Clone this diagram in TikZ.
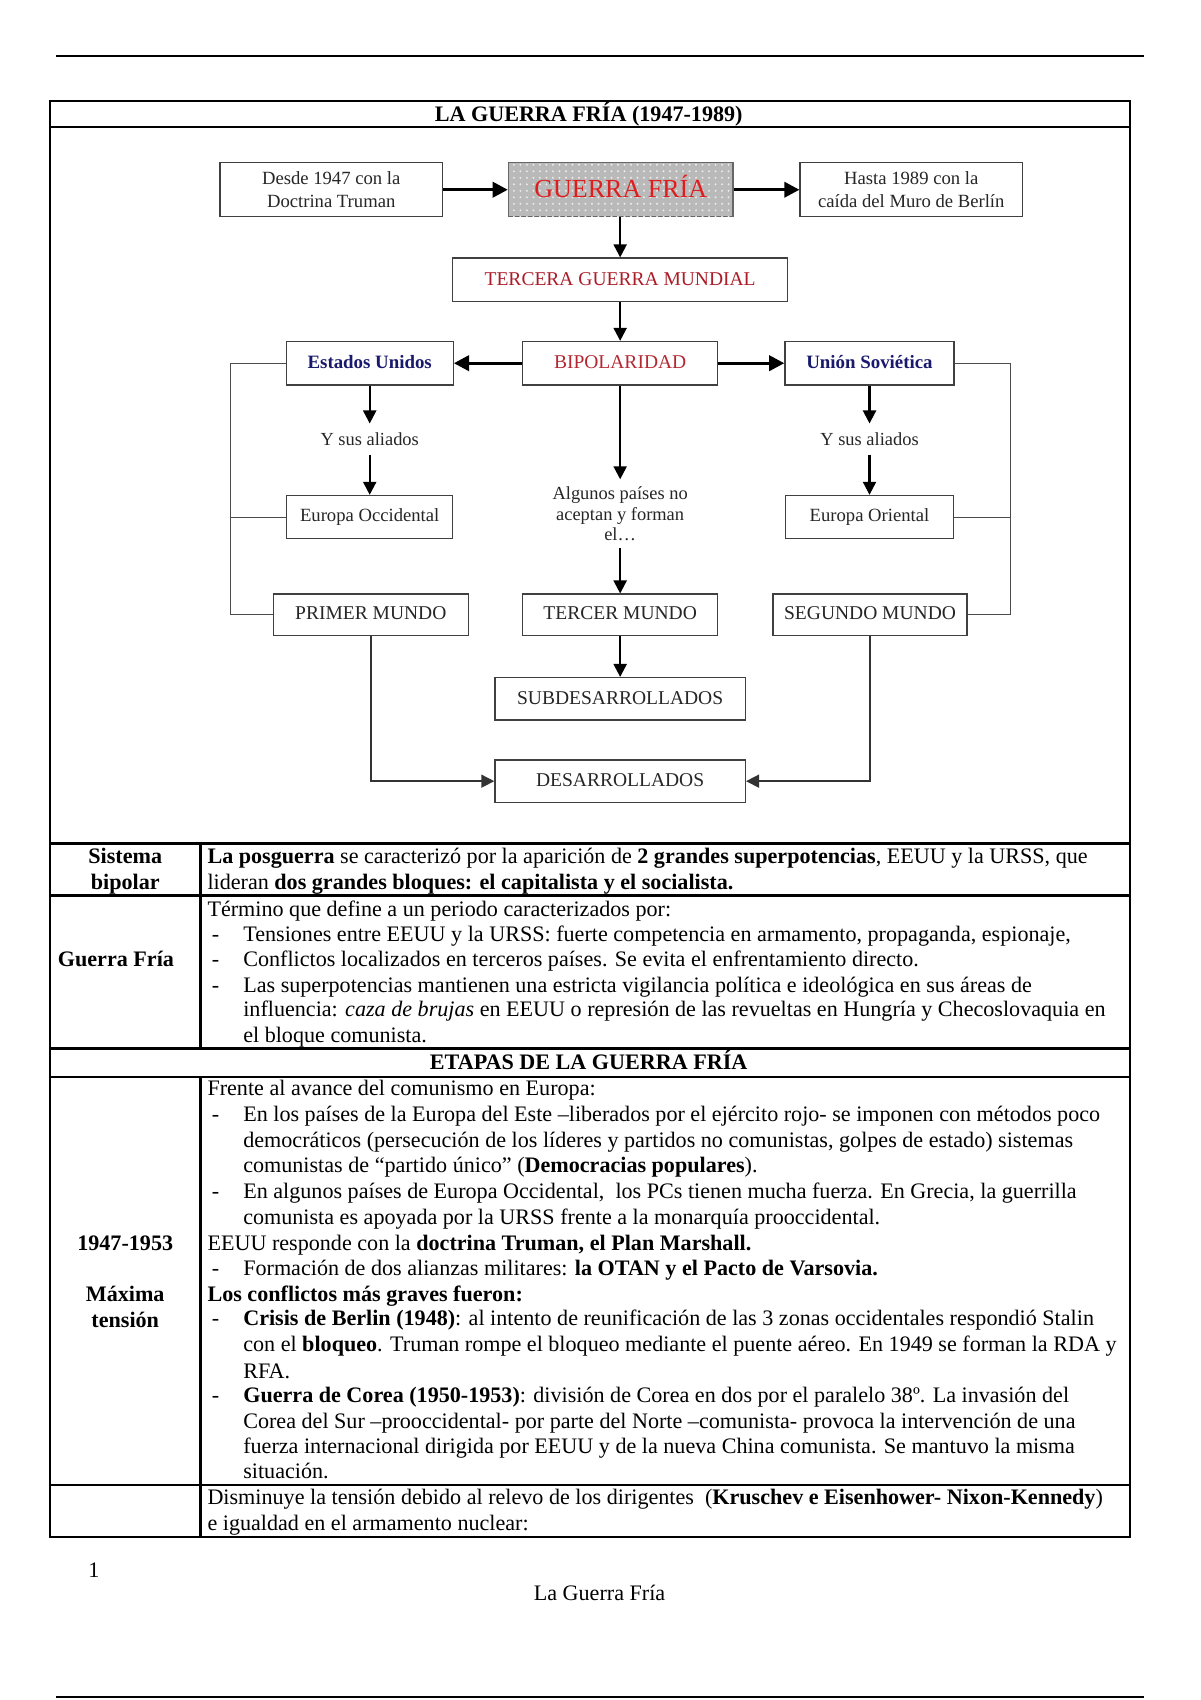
\documentclass[tikz,border=0pt]{standalone}
\usepackage{fontspec}
\setmainfont{Liberation Serif}
\usetikzlibrary{arrows.meta,patterns}
\definecolor{gfred}{RGB}{222,30,30}
\definecolor{dkred}{RGB}{172,28,40}
\definecolor{bpred}{RGB}{180,40,50}
\definecolor{navyb}{RGB}{25,25,110}
\newcommand\txtf{\fontsize{10.2pt}{11.75pt}\selectfont}
\newcommand\dgf{\fontsize{8.6pt}{10.5pt}\selectfont}
\newcommand\dsf{\fontsize{8.5pt}{9.5pt}\selectfont}
\newcommand\dbf{\fontsize{9pt}{11pt}\selectfont}
\tikzset{
  box/.style={draw=black!75, line width=0.6pt, fill=white, inner sep=0pt, align=center, text=black!85},
  harr/.style={line width=1.5pt, -{Triangle[length=7pt,width=7pt]}},
  varr/.style={line width=1pt, -{Triangle[length=6pt,width=6pt]}},
  larr/.style={line width=0.7pt, draw=black!80, -{Triangle[length=6pt,width=6pt]}},
  thinln/.style={line width=0.5pt, draw=black!70},
  tabln/.style={line width=1pt, draw=black},
  ln/.style={anchor=base west, inner sep=0pt, font=\txtf, yshift=-1pt},
  lnc/.style={anchor=base, inner sep=0pt, font=\txtf, yshift=-1pt},
  plain/.style={inner sep=0pt, align=center, text=black!85},
}
\begin{document}
\begin{tikzpicture}[x=0.5pt,y=-0.5pt]
\useasboundingbox[fill=white] (0,0) rectangle (1107,1568);
% page rules
\draw[line width=1pt] (52,52) -- (1055,52);
\draw[line width=1pt] (52,1565) -- (1055,1565);
% table
\draw[tabln] (46,93) rectangle (1042,1418);
\foreach \yy in {117,778,826,967,993,1370} \draw[tabln] (46,\yy) -- (1042,\yy);
\draw[tabln] (185,778) -- (185,967);
\draw[tabln] (185,993) -- (185,1418);
\node[lnc, font=\txtf\bfseries] (title) at (543,110) {LA GUERRA FRÍA (1947-1989)};

% diagram
\node[box, minimum width=102.5pt, minimum height=25pt, font=\dgf] (desde) at (305.5,175) {Desde 1947 con la\\Doctrina Truman};
\node[box, minimum width=103.5pt, minimum height=25pt, font=\fontsize{12pt}{14pt}\selectfont, text=gfred, fill=gray!55, draw=black!60,
      postaction={pattern=dots, pattern color=white!85!gray}] (guerra) at (572.5,175) {\raisebox{3pt}{GUERRA FRÍA}};
\node[box, minimum width=102.5pt, minimum height=25pt, font=\dgf] (hasta) at (840.5,175) {Hasta 1989 con la\\caída del Muro de Berlín};
\node[box, minimum width=154.5pt, minimum height=20pt, font=\dbf, text=dkred] (tercera) at (572,258) {\raisebox{1pt}{TERCERA GUERRA MUNDIAL}};
\node[box, minimum width=90pt, minimum height=20pt, font=\dbf, text=bpred] (bipo) at (572,335) {\raisebox{1pt}{BIPOLARIDAD}};
\node[box, minimum width=77pt, minimum height=20pt, font=\fontsize{8.7pt}{10pt}\selectfont\bfseries, text=navyb] (eeuu) at (341,335) {\raisebox{1pt}{Estados Unidos}};
\node[box, minimum width=78pt, minimum height=20pt, font=\fontsize{8.7pt}{10pt}\selectfont\bfseries, text=navyb] (urss) at (802,335) {\raisebox{1pt}{Unión Soviética}};
\node[plain, minimum height=14pt, font=\dsf] (aliL) at (341,405) {Y sus aliados};
\node[plain, minimum height=14pt, font=\dsf] (aliR) at (802,405) {Y sus aliados};
\node[box, minimum width=76.5pt, minimum height=20pt, font=\dgf] (eocc) at (341,477) {\raisebox{1pt}{Europa Occidental}};
\node[box, minimum width=77.5pt, minimum height=20pt, font=\dgf] (eori) at (802,477) {\raisebox{1pt}{Europa Oriental}};
\node[plain, minimum height=31.5pt, font=\dsf] (alg) at (572,474) {Algunos países no\\aceptan y forman\\el…};
\node[box, minimum width=90pt, minimum height=19pt, font=\dbf] (primer) at (342,567) {\raisebox{2pt}{PRIMER MUNDO}};
\node[box, minimum width=90pt, minimum height=19pt, font=\dbf] (tercer) at (572,567) {\raisebox{2pt}{TERCER MUNDO}};
\node[box, minimum width=89.5pt, minimum height=19pt, font=\dbf] (segundo) at (802.5,567) {\raisebox{2pt}{SEGUNDO MUNDO}};
\node[box, minimum width=115.5pt, minimum height=19.5pt, font=\dbf] (subdes) at (572,644.5) {\raisebox{1pt}{SUBDESARROLLADOS}};
\node[box, minimum width=115.5pt, minimum height=19.5pt, font=\dbf] (desarr) at (572,720.5) {\raisebox{1pt}{DESARROLLADOS}};

\draw[harr] (desde) -- (guerra);
\draw[harr] (guerra) -- (hasta);
\draw[varr] (guerra.south -| tercera.north) -- (tercera.north);
\draw[varr] (tercera.south) -- (bipo.north);
\draw[harr] (bipo) -- (eeuu);
\draw[harr] (bipo) -- (urss);
\draw[varr] (eeuu.south) -- (aliL.north);
\draw[varr] (aliL.south) -- (eocc.north);
\draw[varr] (urss.south) -- (aliR.north);
\draw[varr] (aliR.south) -- (eori.north);
\draw[varr] (bipo.south) -- (alg.north);
\draw[varr] (alg.south) -- (tercer.north);
\draw[varr] (tercer.south) -- (subdes.north);
\draw[larr] (primer.south) |- (desarr.west);
\draw[larr] (segundo.south) |- (desarr.east);
\coordinate (bl) at (213,335);
\coordinate (br) at (932,335);
\draw[thinln] (eeuu.west) -- (bl) |- (primer.west);
\draw[thinln] (eocc.west) -- (eocc.west -| bl);
\draw[thinln] (urss.east) -- (br) |- (segundo.east);
\draw[thinln] (eori.east) -- (eori.east -| br);

% Sistema bipolar
\node[lnc, font=\txtf\bfseries] (sb1) at (115.5,794) {Sistema};
\node[lnc, font=\txtf\bfseries] (sb2) at (115.5,818) {bipolar};
\node[ln] (s1) at (191,794) {\textbf{La posguerra} se caracterizó por la aparición de \textbf{2 grandes superpotencias}, EEUU y la URSS, que};
\node[ln] (s2) at (191,818) {lideran \textbf{dos grandes bloques: el capitalista y el socialista.}};

% Guerra Fria
\node[ln, font=\txtf\bfseries] (gf) at (53,889) {Guerra Fría};
\node[ln] (g1) at (191,843) {Término que define a un periodo caracterizados por:};
\node[ln] (gb1) at (195,866) {-};
\node[ln] (g2) at (224,866) {Tensiones entre EEUU y la URSS: fuerte competencia en armamento, propaganda, espionaje,};
\node[ln] (gb2) at (195,889) {-};
\node[ln] (g3) at (224,889) {Conflictos localizados en terceros países. Se evita el enfrentamiento directo.};
\node[ln] (gb3) at (195,913) {-};
\node[ln] (g4) at (224,913) {Las superpotencias mantienen una estricta vigilancia política e ideológica en sus áreas de};
\node[ln] (g5) at (224,936) {influencia: \textit{caza de brujas} en EEUU o represión de las revueltas en Hungría y Checoslovaquia en};
\node[ln] (g6) at (224,960) {el bloque comunista.};

% Etapas
\node[lnc, font=\txtf\bfseries] (etapas) at (543,984) {ETAPAS DE LA GUERRA FRÍA};

% 1947-1953
\node[lnc, font=\txtf\bfseries] (e1) at (115.5,1151) {1947-1953};
\node[lnc, font=\txtf\bfseries] (e2) at (115.5,1198) {Máxima};
\node[lnc, font=\txtf\bfseries] (e3) at (115.5,1222) {tensión};

\node[ln] (t1) at (191,1008) {Frente al avance del comunismo en Europa:};
\node[ln] (tb1) at (195,1032) {-};
\node[ln] (t2) at (224,1032) {En los países de la Europa del Este –liberados por el ejército rojo- se imponen con métodos poco};
\node[ln] (t3) at (224,1056) {democráticos (persecución de los líderes y partidos no comunistas, golpes de estado) sistemas};
\node[ln] (t4) at (224,1079) {comunistas de “partido único” (\textbf{Democracias populares}).};
\node[ln] (tb2) at (195,1103) {-};
\node[ln] (t5) at (224,1103) {En algunos países de Europa Occidental,\ \ los PCs tienen mucha fuerza. En Grecia, la guerrilla};
\node[ln] (t6) at (224,1127) {comunista es apoyada por la URSS frente a la monarquía prooccidental.};
\node[ln] (t7) at (191,1151) {EEUU responde con la \textbf{doctrina Truman, el Plan Marshall.}};
\node[ln] (tb3) at (195,1174) {-};
\node[ln] (t8) at (224,1174) {Formación de dos alianzas militares: \textbf{la OTAN y el Pacto de Varsovia.}};
\node[ln, font=\txtf\bfseries] (t9) at (191,1198) {Los conflictos más graves fueron:};
\node[ln] (tb4) at (195,1221) {-};
\node[ln] (t10) at (224,1221) {\textbf{Crisis de Berlin (1948)}: al intento de reunificación de las 3 zonas occidentales respondió Stalin};
\node[ln] (t11) at (224,1245) {con el \textbf{bloqueo}. Truman rompe el bloqueo mediante el puente aéreo. En 1949 se forman la RDA y};
\node[ln] (t12) at (224,1269) {RFA.};
\node[ln] (tb5) at (195,1292) {-};
\node[ln] (t13) at (224,1292) {\textbf{Guerra de Corea (1950-1953)}: división de Corea en dos por el paralelo 38º. La invasión del};
\node[ln] (t14) at (224,1316) {Corea del Sur –prooccidental- por parte del Norte –comunista- provoca la intervención de una};
\node[ln] (t15) at (224,1339) {fuerza internacional dirigida por EEUU y de la nueva China comunista. Se mantuvo la misma};
\node[ln] (t16) at (224,1362) {situación.};

% last row
\node[ln] (l1) at (191,1386) {Disminuye la tensión debido al relevo de los dirigentes\ \ (\textbf{Kruschev e Eisenhower- Nixon-Kennedy})};
\node[ln] (l2) at (191,1410) {e igualdad en el armamento nuclear:};

% footer
\node[ln] (pnum) at (81,1453) {1};
\node[lnc] (foot) at (553,1474) {La Guerra Fría};
\end{tikzpicture}
\end{document}
